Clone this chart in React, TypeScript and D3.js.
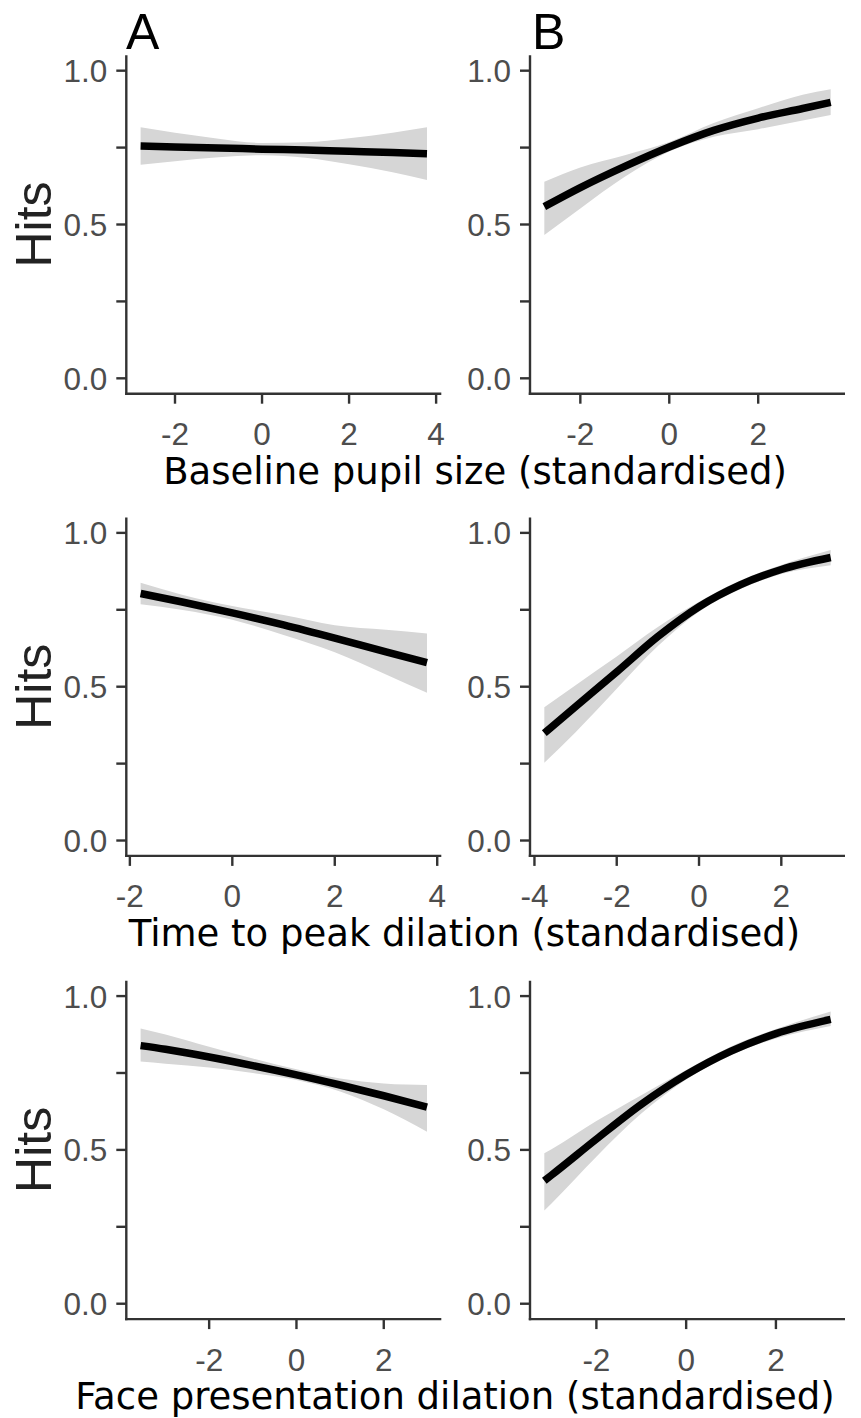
import React from "react";
import * as d3 from "d3";

// ---- data ----
const panelLetters = ["A", "B"];
const xTitles = [
  "Baseline pupil size (standardised)",
  "Time to peak dilation (standardised)",
  "Face presentation dilation (standardised)",
];
const yTickValues = [0, 0.25, 0.5, 0.75, 1];
const yTickLabels = ["0.0", "", "0.5", "", "1.0"];

// Row 1 – baseline pupil size
const r1aX = [-2.79, -2, -1, 0, 1, 2, 3, 3.79];
const r1aFit = [0.755, 0.752, 0.749, 0.745, 0.742, 0.738, 0.734, 0.73];
const r1aLo = [0.694, 0.706, 0.719, 0.725, 0.717, 0.696, 0.67, 0.645];
const r1aHi = [0.816, 0.798, 0.779, 0.765, 0.767, 0.78, 0.798, 0.816];
const r1aTicks = [-2, 0, 2, 4];

const r1bX = [-2.81, -2, -1, 0, 1, 2, 3, 3.63];
const r1bFit = [0.558, 0.62, 0.689, 0.752, 0.806, 0.846, 0.877, 0.897];
const r1bLo = [0.466, 0.552, 0.655, 0.737, 0.785, 0.81, 0.838, 0.856];
const r1bHi = [0.639, 0.685, 0.725, 0.768, 0.83, 0.878, 0.922, 0.94];
const r1bTicks = [-2, 0, 2];

// Row 2 – time to peak dilation
const r2aX = [-1.79, -1, 0, 1, 2, 3, 3.8];
const r2aFit = [0.803, 0.776, 0.74, 0.701, 0.658, 0.613, 0.578];
const r2aLo = [0.768, 0.75, 0.718, 0.668, 0.612, 0.54, 0.48];
const r2aHi = [0.838, 0.8, 0.762, 0.733, 0.7, 0.685, 0.673];
const r2aTicks = [-2, 0, 2, 4];

const r2bX = [-3.76, -3, -2, -1, 0, 1, 2, 3.2];
const r2bFit = [0.349, 0.435, 0.548, 0.663, 0.76, 0.831, 0.881, 0.92];
const r2bLo = [0.253, 0.352, 0.493, 0.632, 0.744, 0.817, 0.866, 0.895];
const r2bHi = [0.433, 0.505, 0.598, 0.694, 0.776, 0.845, 0.896, 0.944];
const r2bTicks = [-4, -2, 0, 2];

// Row 3 – face presentation dilation
const r3aX = [-3.57, -3, -2, -1, 0, 1, 2, 2.99];
const r3aFit = [0.839, 0.827, 0.802, 0.774, 0.744, 0.711, 0.676, 0.639];
const r3aLo = [0.787, 0.78, 0.768, 0.75, 0.727, 0.69, 0.632, 0.559];
const r3aHi = [0.895, 0.875, 0.835, 0.797, 0.762, 0.732, 0.716, 0.711];
const r3aTicks = [-2, 0, 2];

const r3bX = [-3.16, -3, -2, -1, 0, 1, 2, 3.22];
const r3bFit = [0.4, 0.418, 0.535, 0.648, 0.744, 0.821, 0.878, 0.924];
const r3bLo = [0.303, 0.326, 0.478, 0.618, 0.729, 0.808, 0.862, 0.903];
const r3bHi = [0.489, 0.502, 0.594, 0.678, 0.76, 0.836, 0.893, 0.95];
const r3bTicks = [-2, 0, 2];

const rows = [
  [
    { x: r1aX, fit: r1aFit, lo: r1aLo, hi: r1aHi, ticks: r1aTicks },
    { x: r1bX, fit: r1bFit, lo: r1bLo, hi: r1bHi, ticks: r1bTicks },
  ],
  [
    { x: r2aX, fit: r2aFit, lo: r2aLo, hi: r2aHi, ticks: r2aTicks },
    { x: r2bX, fit: r2bFit, lo: r2bLo, hi: r2bHi, ticks: r2bTicks },
  ],
  [
    { x: r3aX, fit: r3aFit, lo: r3aLo, hi: r3aHi, ticks: r3aTicks },
    { x: r3bX, fit: r3bFit, lo: r3bLo, hi: r3bHi, ticks: r3bTicks },
  ],
];

// ---- layout ----
const W = 861;
const H = 1418;
const rowTops = [55.3, 517.5, 980.7];
const panelH = 338.4;
const colLefts = [126.3, 530];
const panelW = 315;
const titleCenters = [475, 464.5, 455];
const axisColor = "#333333";
const tickTextColor = "#4D4D4D";
const ribbonColor = "#D6D6D6";
const tickFont = "'Liberation Sans', Arial, sans-serif";
const titleFont = "'DejaVu Sans', Verdana, sans-serif";

function Panel({ d, left, top, ri, ci }) {
  const [xmin, xmax] = d3.extent(d.x) as [number, number];
  const xr = xmax - xmin;
  const x = d3
    .scaleLinear()
    .domain([xmin - 0.05 * xr, xmax + 0.05 * xr])
    .range([left, left + panelW]);
  const y = d3
    .scaleLinear()
    .domain([-0.05, 1.05])
    .range([top + panelH, top]);
  const pts = d.x.map((xv, i) => ({ x: xv, f: d.fit[i], lo: d.lo[i], hi: d.hi[i] }));
  const area = d3
    .area<any>()
    .x((p) => x(p.x))
    .y0((p) => y(p.lo))
    .y1((p) => y(p.hi))
    .curve(d3.curveMonotoneX);
  const line = d3
    .line<any>()
    .x((p) => x(p.x))
    .y((p) => y(p.f))
    .curve(d3.curveMonotoneX);
  const bottom = top + panelH;
  return (
    <g>
      <path d={area(pts) || ""} fill={ribbonColor} stroke="none" />
      <path d={line(pts) || ""} fill="none" stroke="#000" strokeWidth={7.5} />
      {/* y axis */}
      <line x1={left} x2={left} y1={top} y2={bottom + 1.2} stroke={axisColor} strokeWidth={2.4} />
      {yTickValues.map((v, i) => (
        <g key={"y" + i}>
          <line x1={left - 10} x2={left} y1={y(v)} y2={y(v)} stroke={axisColor} strokeWidth={2.4} />
          {yTickLabels[i] && (
            <text
              x={left - 19}
              y={y(v) + 11.5}
              textAnchor="end"
              fontFamily={tickFont}
              fontSize={31.5}
              fill={tickTextColor}
            >
              {yTickLabels[i]}
            </text>
          )}
        </g>
      ))}
      {/* x axis */}
      <line x1={left - 1.2} x2={left + panelW} y1={bottom} y2={bottom} stroke={axisColor} strokeWidth={2.4} />
      {d.ticks.map((t, i) => (
        <g key={"x" + i}>
          <line x1={x(t)} x2={x(t)} y1={bottom} y2={bottom + 10} stroke={axisColor} strokeWidth={2.4} />
          <text
            x={x(t)}
            y={bottom + 51.5}
            textAnchor="middle"
            fontFamily={tickFont}
            fontSize={31.5}
            fill={tickTextColor}
          >
            {t < 0 ? "-" + Math.abs(t) : String(t)}
          </text>
        </g>
      ))}
      {ci === 0 && (
        <text
          transform={`translate(51, ${y(0.5)}) rotate(-90)`}
          textAnchor="middle"
          fontFamily={tickFont}
          fontSize={50}
          fill="#222"
        >
          Hits
        </text>
      )}
      {ri === 0 && (
        <text x={ci === 0 ? 126 : 532} y={48.5} fontFamily={tickFont} fontSize={50} fill="#000">
          {panelLetters[ci]}
        </text>
      )}
    </g>
  );
}

export default function App() {
  return (
    <svg
      width={W}
      height={H}
      style={{ position: "absolute", left: 0, top: 0, display: "block", background: "#fff" }}
    >
      <rect x={0} y={0} width={W} height={H} fill="#fff" />
      {rows.map((row, ri) => (
        <g key={ri}>
          {row.map((d, ci) => (
            <Panel key={ci} d={d} left={colLefts[ci]} top={rowTops[ri]} ri={ri} ci={ci} />
          ))}
          <text
            x={titleCenters[ri]}
            y={rowTops[ri] + panelH + 90}
            textAnchor="middle"
            fontFamily={titleFont}
            fontSize={37}
            fill="#000"
          >
            {xTitles[ri]}
          </text>
        </g>
      ))}
    </svg>
  );
}
